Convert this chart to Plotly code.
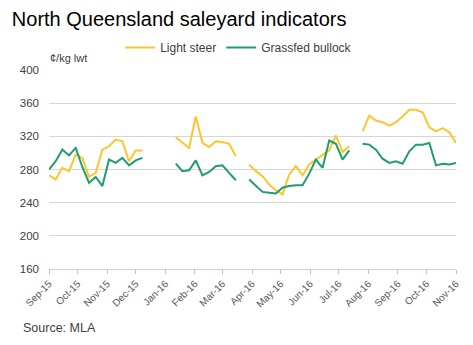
import pandas as pd
import plotly.graph_objects as go

weeks = pd.date_range("2015-09-01", "2016-11-01", freq="7D")

light_steer = [273, 268, 282, 278, 298, 294, 271, 276, 304, 308, 316, 314, 290, 303, 303,
               None, None, None, None,
               319, 312, 306, 344, 312, 307, 314, 313, 311, 296,
               None,
               286, 278, 272, 262, 255, 250, 274, 284, 273, 286, 292, 297, 303, 321, 301, 308,
               None,
               326, 345, 339, 337, 333, 337, 344, 352, 352, 349, 331, 326, 330, 325, 312]

grassfed_bullock = [280, 290, 304, 297, 306, 283, 264, 271, 260, 292, 288, 294, 285, 291, 294,
                    None, None, None, None,
                    287, 278, 279, 291, 273, 277, 284, 285, 276, 267,
                    None,
                    268, 260, 253, 252, 251, 258, 260, 261, 261, 275, 292, 282, 315, 311, 292, 303,
                    None,
                    311, 310, 304, 293, 288, 290, 287, 302, 310, 310, 312, 285, 287, 286, 288]

y_ticks = [160, 200, 240, 280, 320, 360, 400]
series_names = ["Light steer", "Grassfed bullock"]
colors = ["#FEC52E", "#1E9E70"]

FONT = "Liberation Sans, Arial, sans-serif"

fig = go.Figure()
for name, vals, col in zip(series_names, [light_steer, grassfed_bullock], colors):
    fig.add_trace(go.Scatter(x=weeks, y=vals, name=name, mode="lines",
                             line=dict(color=col, width=2), connectgaps=False))

fig.update_layout(
    width=473, height=345,
    margin=dict(l=49, r=13, t=70, b=76),
    paper_bgcolor="white", plot_bgcolor="white",
    font=dict(family=FONT, color="#404040", size=11),
    showlegend=True,
    legend=dict(orientation="h", x=0.466, xanchor="center", y=1.04, yanchor="bottom",
                font=dict(size=12, color="#404040"), bgcolor="rgba(0,0,0,0)",
                itemwidth=30, tracegroupgap=0),
    title=dict(text="North Queensland saleyard indicators", x=0.025, xanchor="left",
               y=0.945, yanchor="middle", xref="container",
               font=dict(size=20, color="#000000", family=FONT)),
    annotations=[
        dict(text="¢/kg lwt", xref="paper", yref="paper", x=-0.003, y=1.005, xanchor="left",
             yanchor="bottom", showarrow=False, font=dict(size=11, color="#404040"), yshift=3),
        dict(text="Source: MLA", xref="paper", yref="paper", x=-0.068, y=-0.25,
             xanchor="left", yanchor="top", showarrow=False,
             font=dict(size=12.5, color="#404040")),
    ],
)

fig.update_xaxes(
    type="date", range=["2015-09-01", "2016-11-01"],
    tick0="2015-09-01", dtick="M1", tickformat="%b-%y", tickangle=-45,
    ticks="outside", ticklen=4, tickcolor="#bfbfbf",
    showline=True, linecolor="#d0d0d0", linewidth=1,
    showgrid=False, zeroline=False,
    tickfont=dict(size=10, color="#595959"),
)
fig.update_yaxes(
    range=[160, 400], tickvals=y_ticks,
    showgrid=True, gridcolor="#d6d6d6", gridwidth=1,
    zeroline=False, showline=False, ticks="",
    tickfont=dict(size=11.5, color="#404040"), ticklabelstandoff=9,
)

fig.write_html("out.html")
